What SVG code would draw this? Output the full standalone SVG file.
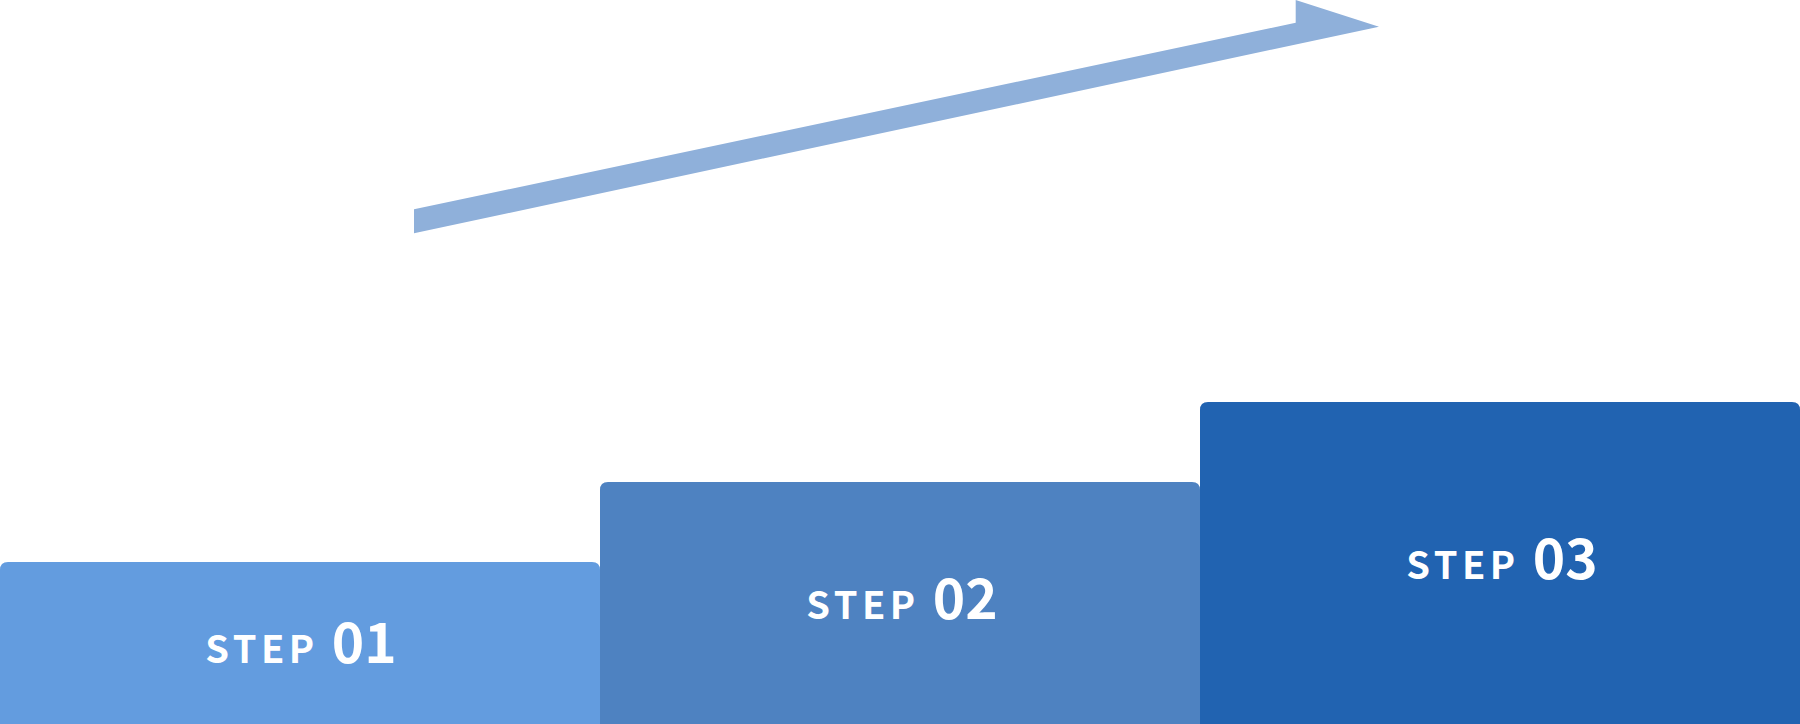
<svg xmlns="http://www.w3.org/2000/svg" width="1800" height="724" viewBox="0 0 1800 724">
<style>
.lbl{font-family:"Noto Sans CJK SC","Noto Sans",sans-serif;font-weight:700;fill:#FFFFFF;text-anchor:middle}
.s{font-size:38px;letter-spacing:4.5px}
.n{font-size:55px}
</style>
<rect width="1800" height="724" fill="#FFFFFF"/>
<g id="connectors">
<polygon points="414,209.3 1295.7,22.7 1295.7,0 1379,26.7 414,233.3" fill="#8FB0DA"/>
</g>
<g id="step01">
<path d="M0,570 Q0,562 8,562 L592,562 Q600,562 600,570 L600,724 L0,724 Z" fill="#639CDF"/>
<text class="lbl" x="301" y="663"><tspan class="s">STEP </tspan><tspan class="n">01</tspan></text>
</g>
<g id="step02">
<path d="M600,490 Q600,482 608,482 L1192,482 Q1200,482 1200,490 L1200,724 L600,724 Z" fill="#4E82C1"/>
<text class="lbl" x="902" y="619"><tspan class="s">STEP </tspan><tspan class="n">02</tspan></text>
</g>
<g id="step03">
<path d="M1200,410 Q1200,402 1208,402 L1792,402 Q1800,402 1800,410 L1800,724 L1200,724 Z" fill="#2163B1"/>
<text class="lbl" x="1502" y="579"><tspan class="s">STEP </tspan><tspan class="n">03</tspan></text>
</g>
</svg>
